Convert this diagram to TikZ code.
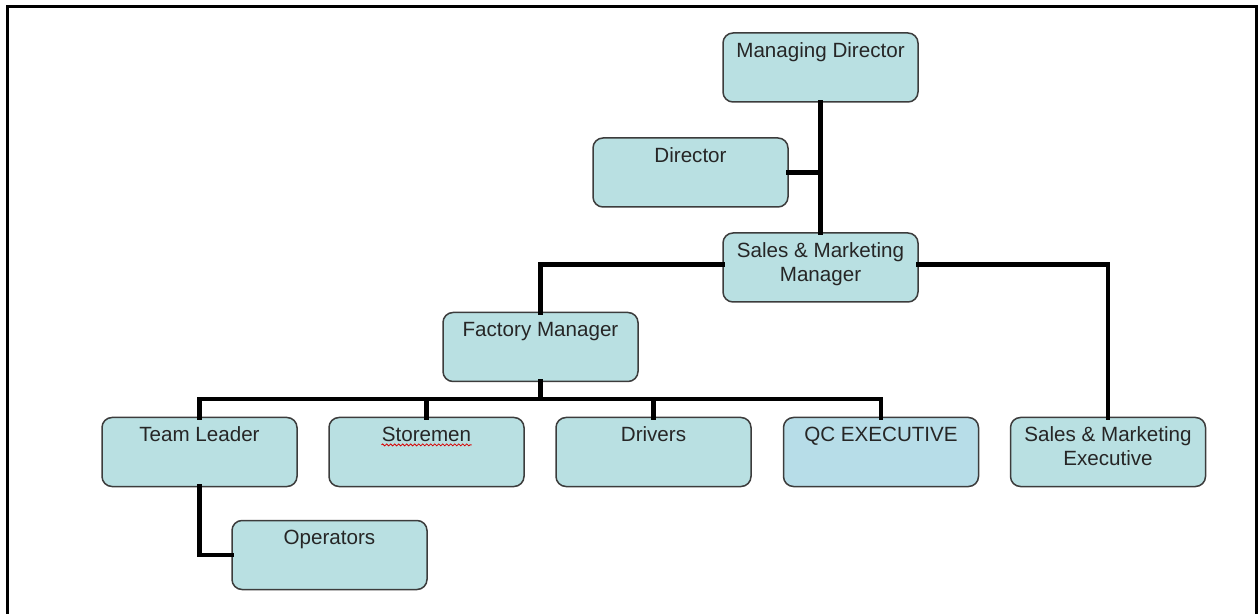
\documentclass[tikz,border=0pt]{standalone}
\usepackage{fontspec}
\setmainfont{Liberation Sans}
\usepackage{tikz}
\usetikzlibrary{decorations.pathmorphing}
\definecolor{postfill}{RGB}{185, 224, 226}
\definecolor{qcfill}{RGB}{183, 221, 232}
\definecolor{postline}{RGB}{60, 60, 60}
\tikzset{
  post/.style={draw=postline, line width=0.75pt, fill=postfill, rounded corners=5pt,
    minimum width=97.5pt, minimum height=34.5pt, inner sep=0pt, outer sep=0pt},
  toptext/.style={anchor=north, inner sep=4.5pt, align=center, text=black!85,
    font=\fontsize{10.3}{12}\selectfont},
  link/.style={line width=2.2pt, line cap=rect}
}
\begin{document}
\begin{tikzpicture}[x=0.5pt, y=-0.5pt]
\useasboundingbox (0,0) rectangle (1258,614);
% frame
\draw[line width=1.5pt] (7,614) -- (7,7) -- (1256,7) -- (1256,614);

% posts
\node[post, label={[toptext]north:Managing Director}] (md) at (820.5, 67.5) {};
\node[post, label={[toptext]north:Director}] (dir) at (690.5, 172.5) {};
\node[post, label={[toptext]north:{Sales \& Marketing\\Manager}}] (smm) at (820.5, 267.5) {};
\node[post, label={[toptext]north:Factory Manager}] (fm) at (540.5, 347) {};
\node[post, label={[toptext]north:Team Leader}] (tl) at (199.5, 452) {};
\node[post, label={[toptext, name=stlbl]north:Storemen}] (st) at (426.5, 452) {};
\node[post, label={[toptext]north:Drivers}] (dr) at (653.5, 452) {};
\node[post, fill=qcfill, label={[toptext]north:QC EXECUTIVE}] (qc) at (881, 452) {};
\node[post, label={[toptext]north:{Sales \& Marketing\\Executive}}] (sme) at (1108, 452) {};
\node[post, label={[toptext]north:Operators}] (op) at (329.5, 555) {};

% spell-check mark
\draw[red!85!black, line width=0.4pt, decorate,
  decoration={snake, amplitude=0.5pt, segment length=2pt}]
  ([yshift=3pt, xshift=4.5pt]stlbl.south west) -- ([yshift=3pt, xshift=-4.5pt]stlbl.south east);

% connectors
\draw[link] (md.south) -- (smm.north);
\draw[link] (dir.east) -- (dir.east -| md.south);
\draw[link] ([yshift=1.5pt]smm.west) -| (fm.north);
\draw[link] ([yshift=1.5pt]smm.east) -| (sme.north);
\coordinate (bus) at (540.5, 399);
\draw[link] (fm.south) -- (bus);
\foreach \n in {tl, st, dr, qc}{
\draw[link] (bus) -| (\n.north);
}
\draw[link] (tl.south) |- (op.west);
\end{tikzpicture}
\end{document}
